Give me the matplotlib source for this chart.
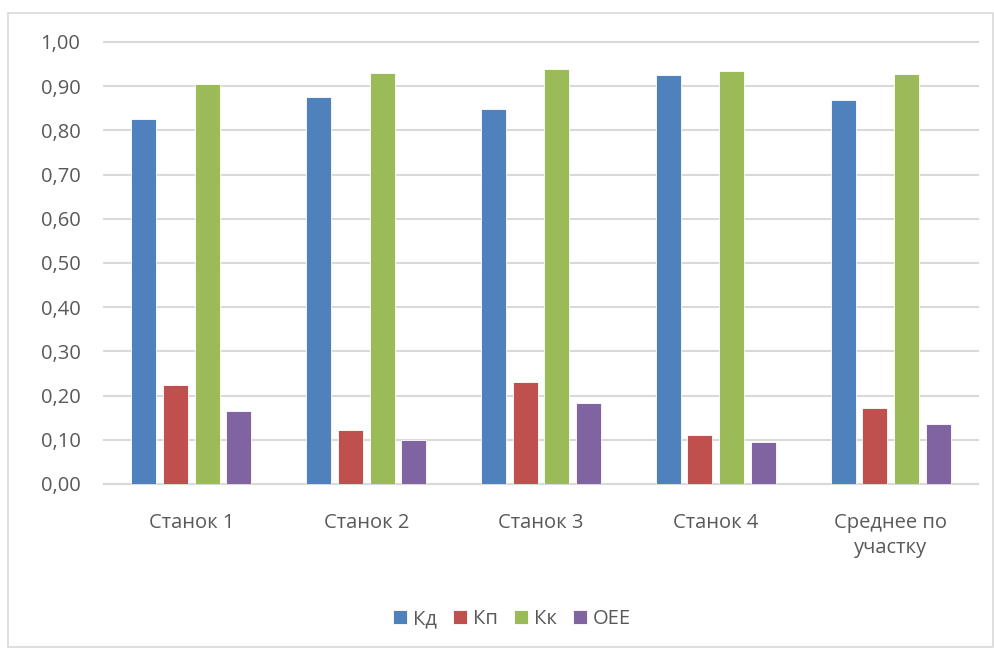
import numpy as np
import matplotlib
matplotlib.use('Agg')
import matplotlib.pyplot as plt
from matplotlib.ticker import FuncFormatter, MultipleLocator
from matplotlib.patches import Rectangle

# данные
categories = ['Станок 1', 'Станок 2', 'Станок 3', 'Станок 4', 'Среднее по\nучастку']
kd = [0.825, 0.875, 0.849, 0.925, 0.869]
kp = [0.223, 0.122, 0.230, 0.110, 0.171]
kk = [0.906, 0.929, 0.938, 0.935, 0.927]
oee = [0.166, 0.099, 0.183, 0.096, 0.136]

series_names = ['Кд', 'Кп', 'Кк', 'OEE']
colors = ['#4F81BD', '#C0504D', '#9BBB59', '#8064A2']
text_color = '#595959'
grid_color = '#D9D9D9'

plt.rcParams['font.family'] = ['Open Sans', 'DejaVu Sans']
plt.rcParams['font.size'] = 14.5

fig = plt.figure(figsize=(9.94, 6.48), dpi=100)
ax = fig.add_axes([104 / 994, 164 / 648, 874 / 994, 442 / 648])

# рамка вокруг диаграммы
fig.patches.append(Rectangle((8 / 994, 1 / 648), 985 / 994, 634 / 648,
                             transform=fig.transFigure, fill=False,
                             edgecolor=grid_color, linewidth=1.2))

x = np.arange(len(categories))
step = 0.181
width = 0.143
for i, (vals, name) in enumerate(zip([kd, kp, kk, oee], series_names)):
    ax.bar(x + (i - 1.5) * step, vals, width, color=colors[i], label=name,
           edgecolor='white', linewidth=0.6, zorder=3)

ax.set_xlim(-0.5, len(categories) - 0.5)
ax.set_ylim(0, 1.0)
ax.yaxis.set_major_locator(MultipleLocator(0.1))
ax.yaxis.set_major_formatter(FuncFormatter(lambda v, p: f'{v:.2f}'.replace('.', ',')))
ax.yaxis.grid(True, color=grid_color, linewidth=1.5, clip_on=False)
ax.set_axisbelow(True)

for s in ['top', 'right', 'left']:
    ax.spines[s].set_visible(False)
ax.spines['bottom'].set_color(grid_color)
ax.spines['bottom'].set_linewidth(1.5)

ax.set_xticks(x)
ax.set_xticklabels(categories, linespacing=1.3)
ax.tick_params(axis='x', length=0, pad=21, colors=text_color)
ax.tick_params(axis='y', length=0, pad=17, colors=text_color)

fig.legend(loc='center', bbox_to_anchor=(0.515, 1 - 619 / 648), ncol=4,
           frameon=False, handlelength=0.7, handleheight=0.7,
           handletextpad=0.3, columnspacing=0.8, labelcolor=text_color)

plt.savefig('out.png', dpi=100)
plt.close()
